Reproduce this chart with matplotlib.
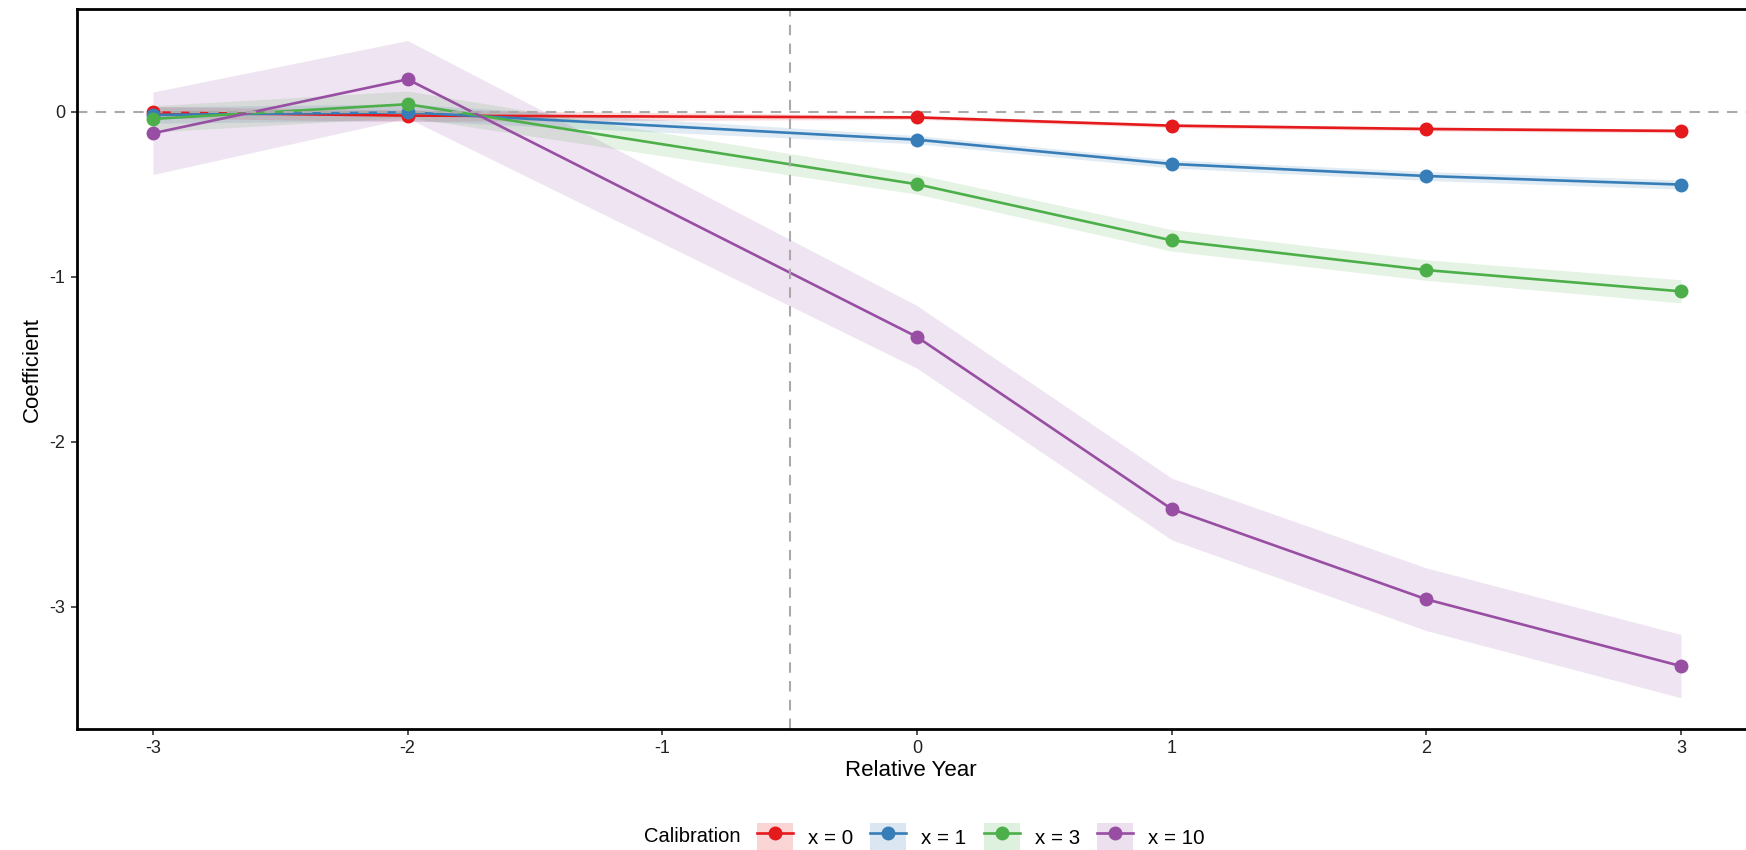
import matplotlib
matplotlib.use("Agg")
import matplotlib.pyplot as plt
from matplotlib.patches import Patch
from matplotlib.lines import Line2D
from matplotlib.legend_handler import HandlerTuple

plt.rcParams['font.family'] = ['Liberation Sans', 'DejaVu Sans']

years = [-3, -2, 0, 1, 2, 3]
labels = ["x = 0", "x = 1", "x = 3", "x = 10"]
colors = ["#E41A1C", "#377EB8", "#4DAF4A", "#984EA3"]

coef_x0 = [-0.005, -0.024, -0.035, -0.085, -0.105, -0.117]
coef_x1 = [-0.02, -0.004, -0.17, -0.317, -0.39, -0.442]
coef_x3 = [-0.044, 0.045, -0.44, -0.78, -0.96, -1.089]
coef_x10 = [-0.131, 0.196, -1.365, -2.408, -2.955, -3.36]

se_x0 = [0.035, 0.035, 0.012, 0.012, 0.012, 0.012]
se_x1 = [0.05, 0.05, 0.025, 0.025, 0.027, 0.028]
se_x3 = [0.08, 0.08, 0.06, 0.065, 0.062, 0.07]
se_x10 = [0.25, 0.235, 0.19, 0.187, 0.19, 0.192]

coefs = [coef_x0, coef_x1, coef_x3, coef_x10]
ses = [se_x0, se_x1, se_x3, se_x10]

W, H = 1746, 850
fig = plt.figure(figsize=(W / 100, H / 100), dpi=100)
left, right, top, bottom = 76.5, 1746, 9, 729
ax = fig.add_axes([left / W, 1 - bottom / H, (right - left) / W, (bottom - top) / H])

for c, s, col in zip(coefs, ses, colors):
    lo = [v - e for v, e in zip(c, s)]
    hi = [v + e for v, e in zip(c, s)]
    ax.fill_between(years, lo, hi, color=col, alpha=0.15, linewidth=0, zorder=1)

for c, col in zip(coefs, colors):
    ax.plot(years, c, color=col, lw=1.9, zorder=2)

ax.axhline(0, color="#AAAAAA", lw=1.5, ls=(0, (5, 4)), zorder=2.5)
ax.axvline(-0.5, color="#AAAAAA", lw=1.5, ls=(0, (5, 4)), zorder=2.5)

for c, col in zip(coefs, colors):
    ax.plot(years, c, ls="none", marker="o", ms=9, color=col, zorder=3)

ax.set_xlim(-3.3, 3.255)
ax.set_ylim(-3.741, 0.622)
ax.set_xticks([-3, -2, -1, 0, 1, 2, 3])
ax.set_yticks([0, -1, -2, -3])
ax.set_xticklabels(["-3", "-2", "-1", "0", "1", "2", "3"])
ax.set_yticklabels(["0", "-1", "-2", "-3"])
ax.tick_params(labelsize=13, length=4.5, width=1.2, color="#333333", labelcolor="#222222")
for sp in ["left", "bottom", "top"]:
    ax.spines[sp].set_linewidth(2)
    ax.spines[sp].set_color("black")
ax.spines["right"].set_visible(False)

ax.set_xlabel("Relative Year", fontsize=16, labelpad=2)
ax.set_ylabel("Coefficient", fontsize=16, labelpad=5)

handles = []
for col in colors:
    p = Patch(facecolor=col, alpha=0.18, edgecolor="none")
    ln = Line2D([], [], color=col, lw=1.9, marker="o", ms=9)
    handles.append((p, ln))

fig.text(644 / W, 1 - 836 / H, "Calibration", fontsize=14.5, ha="left", va="center")
leg = fig.legend(handles, labels, handler_map={tuple: HandlerTuple(ndivide=1, pad=0)},
                 loc="center left", bbox_to_anchor=(757 / W, 1 - 837 / H),
                 ncol=4, frameon=False, fontsize=14.8, handlelength=1.75, handleheight=1.75,
                 handletextpad=0.72, columnspacing=0.85, borderpad=0, borderaxespad=0)

fig.savefig("out.png", dpi=100)
